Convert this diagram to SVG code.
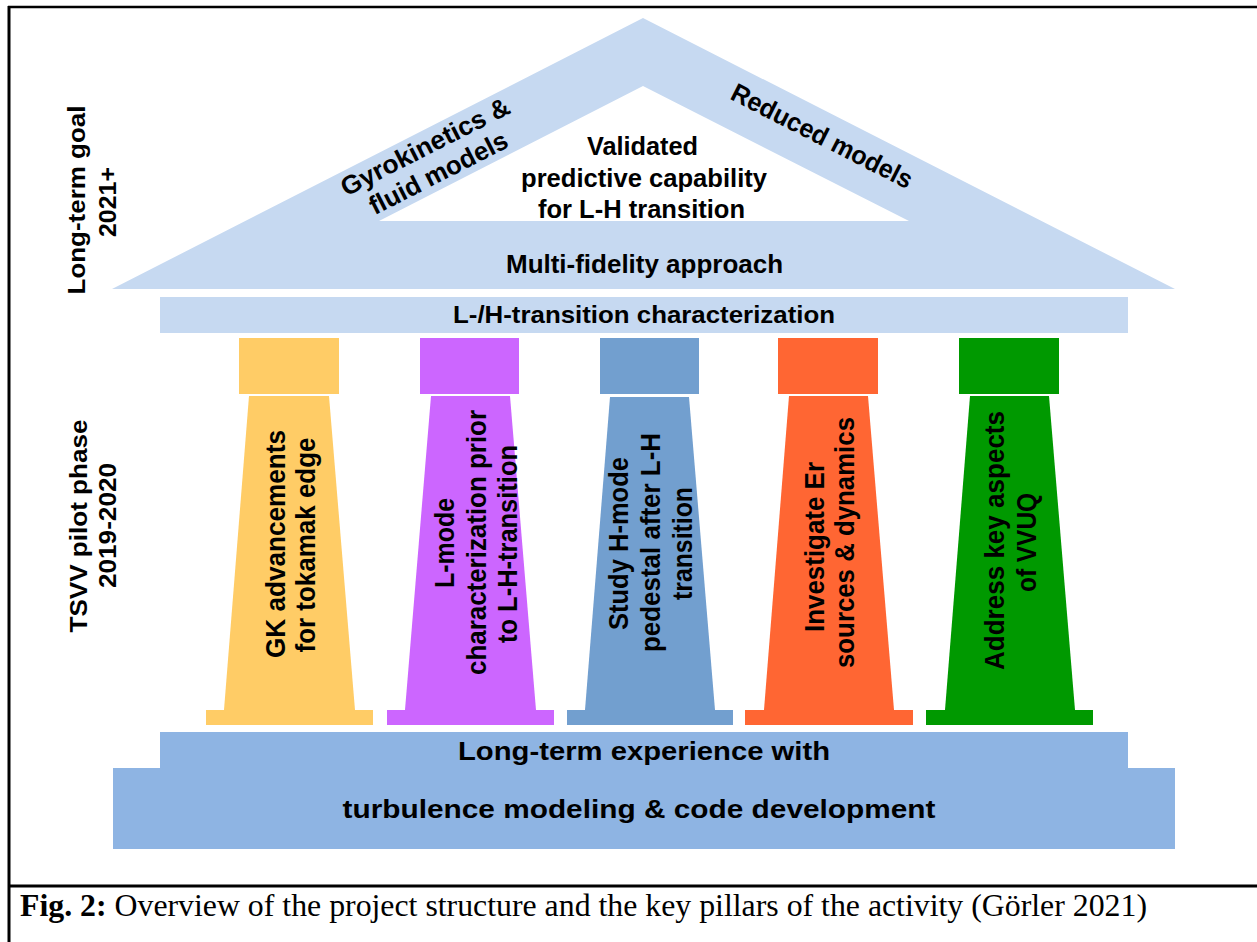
<svg xmlns="http://www.w3.org/2000/svg" width="1257" height="942" viewBox="0 0 1257 942">
<style>
.lbl{font-family:"Liberation Sans",Arimo,Arial,Helvetica,sans-serif;font-weight:bold;fill:#000;text-anchor:middle}
.f23{font-size:23px}
.f24{font-size:24px}
.f25{font-size:25px}
.f26{font-size:26px}
.f27{font-size:27px}
.roof{fill:#C6D9F1}
.found{fill:#8EB4E3}
.frame{stroke:#000;fill:none}
.cap{font-family:"Liberation Serif","Times New Roman",Times,serif;font-size:30.5px;fill:#000}
</style>
<rect x="0" y="0" width="1257" height="942" fill="#fff"/>
<g id="frame">
<line class="frame" x1="8" y1="7" x2="1257" y2="7" stroke-width="2.5"/>
<line class="frame" x1="9" y1="6" x2="9" y2="942" stroke-width="3"/>
<line class="frame" x1="8" y1="886" x2="1257" y2="886" stroke-width="3"/>
</g>
<g id="phase-labels">
<text class="lbl f23" transform="translate(85,200) rotate(-90)" textLength="189" lengthAdjust="spacingAndGlyphs">Long-term  goal</text>
<text class="lbl f23" transform="translate(116,202) rotate(-90)" textLength="70" lengthAdjust="spacingAndGlyphs">2021+</text>
<text class="lbl f23" transform="translate(87,526) rotate(-90)" textLength="213" lengthAdjust="spacingAndGlyphs">TSVV  pilot  phase</text>
<text class="lbl f23" transform="translate(116,525.5) rotate(-90)" textLength="125" lengthAdjust="spacingAndGlyphs">2019-2020</text>
</g>
<g id="roof">
<path class="roof" fill-rule="evenodd" d="M643,18 L1175,289 L112,289 Z M643,86 L909,221 L379,221 Z"/>
<g transform="translate(429,154.5) rotate(-27)">
<text class="lbl f26" x="0" y="0" textLength="186" lengthAdjust="spacingAndGlyphs">Gyrokinetics &amp;</text>
<text class="lbl f26" x="0" y="29.5" textLength="152" lengthAdjust="spacingAndGlyphs">fluid models</text>
</g>
<text class="lbl f26" transform="translate(818,144) rotate(27)" textLength="200" lengthAdjust="spacingAndGlyphs">Reduced models</text>
<text class="lbl f25" x="642.5" y="155" textLength="111" lengthAdjust="spacingAndGlyphs">Validated</text>
<text class="lbl f25" x="644" y="187" textLength="246" lengthAdjust="spacingAndGlyphs">predictive capability</text>
<text class="lbl f25" x="641.5" y="218" textLength="207" lengthAdjust="spacingAndGlyphs">for L-H transition</text>
<text class="lbl f25" x="644.5" y="273" textLength="277" lengthAdjust="spacingAndGlyphs">Multi-fidelity  approach</text>
</g>
<g id="architrave">
<rect class="roof" x="160" y="297" width="968" height="36"/>
<text class="lbl f24" x="644" y="323" textLength="382" lengthAdjust="spacingAndGlyphs">L-/H-transition  characterization</text>
</g>
<g id="pillar-1">
<rect x="239" y="338" width="100" height="56" fill="#FFCC66"/>
<polygon points="249,396 329,396 355,710 224,710" fill="#FFCC66"/>
<rect x="206" y="710" width="167" height="15" fill="#FFCC66"/>
<text class="lbl f27" transform="translate(285,544) rotate(-90)" textLength="228" lengthAdjust="spacingAndGlyphs">GK advancements</text>
<text class="lbl f27" transform="translate(315,545) rotate(-90)" textLength="215" lengthAdjust="spacingAndGlyphs">for tokamak edge</text>
</g>
<g id="pillar-2">
<rect x="420" y="338" width="99" height="56" fill="#CC66FF"/>
<polygon points="431,396 510,396 536,710 405,710" fill="#CC66FF"/>
<rect x="387" y="710" width="167" height="15" fill="#CC66FF"/>
<text class="lbl f27" transform="translate(454,543) rotate(-90)" textLength="90" lengthAdjust="spacingAndGlyphs">L-mode</text>
<text class="lbl f27" transform="translate(486,542.5) rotate(-90)" textLength="265" lengthAdjust="spacingAndGlyphs">characterization prior</text>
<text class="lbl f27" transform="translate(517,544) rotate(-90)" textLength="198" lengthAdjust="spacingAndGlyphs">to L-H-transition</text>
</g>
<g id="pillar-3">
<rect x="600" y="338" width="99" height="56" fill="#729FCF"/>
<polygon points="610,397 689,397 715,710 585,710" fill="#729FCF"/>
<rect x="567" y="710" width="166" height="15" fill="#729FCF"/>
<text class="lbl f27" transform="translate(628,543.5) rotate(-90)" textLength="173" lengthAdjust="spacingAndGlyphs">Study H-mode</text>
<text class="lbl f27" transform="translate(660,542.5) rotate(-90)" textLength="219" lengthAdjust="spacingAndGlyphs">pedestal after L-H</text>
<text class="lbl f27" transform="translate(692,543.5) rotate(-90)" textLength="113" lengthAdjust="spacingAndGlyphs">transition</text>
</g>
<g id="pillar-4">
<rect x="778" y="338" width="100" height="56" fill="#FF6633"/>
<polygon points="789,396 868,396 894,710 764,710" fill="#FF6633"/>
<rect x="745" y="710" width="168" height="15" fill="#FF6633"/>
<text class="lbl f27" transform="translate(824,547) rotate(-90)" textLength="170" lengthAdjust="spacingAndGlyphs">Investigate Er</text>
<text class="lbl f27" transform="translate(854,542.5) rotate(-90)" textLength="251" lengthAdjust="spacingAndGlyphs">sources &amp; dynamics</text>
</g>
<g id="pillar-5">
<rect x="959" y="338" width="100" height="56" fill="#009900"/>
<polygon points="970,396 1049,396 1075,710 945,710" fill="#009900"/>
<rect x="926" y="710" width="167" height="15" fill="#009900"/>
<text class="lbl f27" transform="translate(1004,540.5) rotate(-90)" textLength="259" lengthAdjust="spacingAndGlyphs">Address key aspects</text>
<text class="lbl f27" transform="translate(1036,542.5) rotate(-90)" textLength="99" lengthAdjust="spacingAndGlyphs">of VVUQ</text>
</g>
<g id="foundation">
<path class="found" d="M160,732 L1128,732 L1128,768 L1175,768 L1175,849 L113,849 L113,768 L160,768 Z"/>
<text class="lbl f25" x="644" y="760" textLength="372" lengthAdjust="spacingAndGlyphs">Long-term experience with</text>
<text class="lbl f25" x="639" y="818" textLength="593" lengthAdjust="spacingAndGlyphs">turbulence modeling &amp; code development</text>
</g>
<g id="caption">
<text class="cap" x="20" y="916" textLength="1127" lengthAdjust="spacingAndGlyphs"><tspan font-weight="bold">Fig. 2:</tspan> Overview of the project structure and the key pillars of the activity (Görler 2021)</text>
</g>
</svg>
